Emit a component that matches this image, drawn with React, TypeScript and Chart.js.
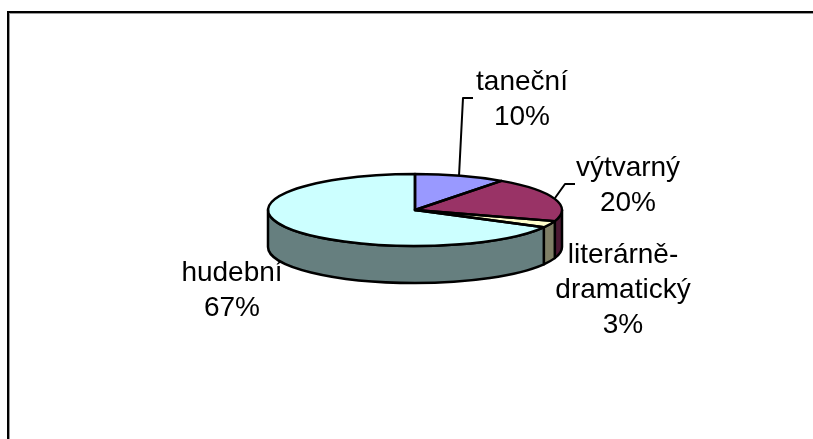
import React, { useEffect, useRef } from "react";
import { Chart, registerables } from "chart.js";

Chart.register(...registerables);

const categories = ["taneční", "výtvarný", "literárně-dramatický", "hudební"];
const values = [10, 20, 3, 67];
const topColors = ["#9999FF", "#993366", "#FFFFCC", "#CCFFFF"];
const wallColors = ["#4C4C7F", "#4C1933", "#7F7F66", "#667F7F"];
const labelLines = [["taneční", "10%"], ["výtvarný", "20%"], ["literárně-", "dramatický", "3%"], ["hudební", "67%"]];
const labelAnchors = [[522, 90], [628, 176], [623, 263], [232, 281]];
const leaders = [
  [[459, 176], [463, 98], [473, 98]],
  [[555, 198], [565, 184], [575, 184]],
];

const SQUASH = 36 / 147;
const DEPTH = 37;
const INK = "#000";
const STROKE = 2.5;
const LINE_PITCH = 35;

function tracePie(ctx: CanvasRenderingContext2D, x: number, y: number, r: number, a: number, b: number) {
  ctx.moveTo(x, y);
  ctx.ellipse(x, y, r, r * SQUASH, 0, a, b);
  ctx.closePath();
}

const pie3d = {
  id: "pie3d",
  beforeDatasetsDraw(chart: any) {
    const ctx: CanvasRenderingContext2D = chart.ctx;
    const arcs = chart.getDatasetMeta(0).data;
    const first = arcs[0];
    const { x, y, outerRadius: r } = first.getProps(["x", "y", "outerRadius"], true);
    ctx.save();
    ctx.lineWidth = STROKE;
    ctx.strokeStyle = INK;
    ctx.lineJoin = "round";
    for (let i = 0; i < arcs.length; i++) {
      const { startAngle, endAngle } = arcs[i].getProps(["startAngle", "endAngle"], true);
      const segs: [number, number][] = [];
      for (const k of [0, 2]) {
        const a = Math.max(startAngle, k * Math.PI);
        const b = Math.min(endAngle, (k + 1) * Math.PI);
        if (b > a) segs.push([a, b]);
      }
      for (const [a, b] of segs) {
        ctx.beginPath();
        ctx.ellipse(x, y, r, r * SQUASH, 0, a, b);
        ctx.lineTo(x + r * Math.cos(b), y + r * SQUASH * Math.sin(b) + DEPTH);
        ctx.ellipse(x, y + DEPTH, r, r * SQUASH, 0, b, a, true);
        ctx.closePath();
        ctx.fillStyle = wallColors[i];
        ctx.fill();
        ctx.stroke();
      }
    }
    ctx.restore();
    ctx.save();
    ctx.translate(x, y);
    ctx.scale(1, SQUASH);
    ctx.translate(-x, -y);
  },
  afterDatasetsDraw(chart: any) {
    const ctx: CanvasRenderingContext2D = chart.ctx;
    ctx.restore();
    const arcs = chart.getDatasetMeta(0).data;
    ctx.save();
    ctx.lineWidth = STROKE;
    ctx.strokeStyle = INK;
    ctx.lineJoin = "round";
    for (const arc of arcs) {
      const { x, y, outerRadius: r, startAngle, endAngle } = arc.getProps(["x", "y", "outerRadius", "startAngle", "endAngle"], true);
      ctx.beginPath();
      tracePie(ctx, x, y, r, startAngle, endAngle);
      ctx.stroke();
    }
    ctx.lineWidth = 2;
    for (const pts of leaders) {
      ctx.beginPath();
      pts.forEach(([px, py], i) => (i ? ctx.lineTo(px, py) : ctx.moveTo(px, py)));
      ctx.stroke();
    }
    ctx.fillStyle = INK;
    ctx.font = '28px "Liberation Sans", Arial, sans-serif';
    ctx.textAlign = "center";
    ctx.textBaseline = "alphabetic";
    labelLines.forEach((lines, i) => {
      const [lx, ly] = labelAnchors[i];
      lines.forEach((t, j) => ctx.fillText(t, lx, ly + j * LINE_PITCH));
    });
    ctx.restore();
  },
};

export default function App() {
  const ref = useRef<HTMLCanvasElement>(null);
  useEffect(() => {
    document.body.style.margin = "0";
    const chart = new Chart(ref.current!, {
      type: "pie",
      data: {
        labels: categories,
        datasets: [{ data: values, backgroundColor: topColors, borderWidth: 0 }],
      },
      options: {
        responsive: false,
        animation: false,
        layout: { padding: { left: 268, right: 251, top: 63, bottom: 82 } },
        plugins: { legend: { display: false }, tooltip: { enabled: false } },
      },
      plugins: [pie3d],
    });
    return () => chart.destroy();
  }, []);
  return (
    <div style={{ position: "relative", width: 813, height: 439, overflow: "hidden", background: "#fff" }}>
      <canvas ref={ref} width={813} height={439} style={{ display: "block" }} />
      <div
        style={{
          position: "absolute",
          left: 7,
          top: 11,
          right: -10,
          bottom: -10,
          borderLeft: "2px solid #000",
          borderTop: "2px solid #000",
          boxShadow: "inset 1px 1px 0 #999",
        }}
      />
    </div>
  );
}
